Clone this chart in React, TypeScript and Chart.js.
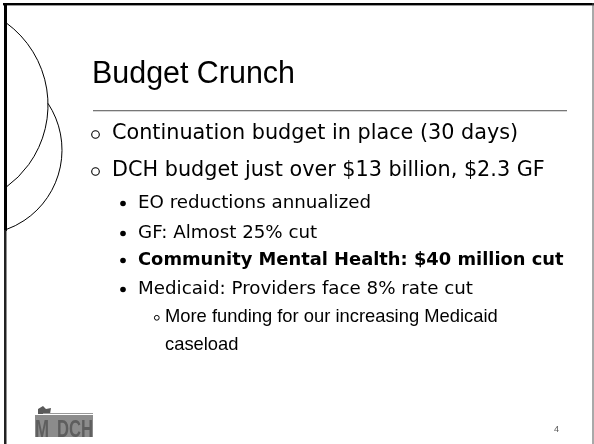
import React, { useEffect, useRef } from "react";
import { Chart, registerables } from "chart.js";

Chart.register(...registerables);

// ---- slide content ----
const TITLE = "Budget Crunch";
const LEVEL1_ITEMS = [
  "Continuation budget in place (30 days)",
  "DCH budget just over $13 billion, $2.3 GF",
];
const LEVEL2_ITEMS = [
  "EO reductions annualized",
  "GF: Almost 25% cut",
  "Community Mental Health: $40 million cut",
  "Medicaid: Providers face 8% rate cut",
];
const LEVEL2_BOLD = [false, false, true, false];
const LEVEL3_LINES = ["More funding for our increasing Medicaid", "caseload"];
const PAGE_NUMBER = "4";
const LOGO_TEXT = ["M", "DCH"];

// ---- layout ----
const W = 594;
const H = 444;
const L1_BASE = [139, 176];
const L2_BASE = [208, 238, 265, 294];
const L3_BASE = [322, 350];

function fitSize(ctx: CanvasRenderingContext2D, text: string, family: string, weight: string, target: number) {
  ctx.font = `${weight} 100px ${family}`;
  const w = ctx.measureText(text).width;
  return (100 * target) / w;
}

function drawSquashed(ctx: CanvasRenderingContext2D, text: string, font: string, x: number, y: number, width: number) {
  ctx.font = font;
  const w = ctx.measureText(text).width;
  ctx.save();
  ctx.translate(x, y);
  ctx.scale(width / w, 1);
  ctx.fillText(text, 0, 0);
  ctx.restore();
}

const slidePlugin = {
  id: "slide",
  afterDraw(chart: any) {
    const ctx: CanvasRenderingContext2D = chart.ctx;
    ctx.save();
    ctx.fillStyle = "#ffffff";
    ctx.fillRect(0, 0, W, H);

    // frame
    ctx.fillStyle = "#000000";
    ctx.fillRect(3, 3, W - 3, 2.4);
    ctx.fillRect(4, 3, 3, 228);
    ctx.fillStyle = "#222222";
    ctx.fillRect(4, 230, 2.5, H - 230);
    ctx.fillStyle = "#555555";
    ctx.fillRect(592.5, 3, 1, H);

    // arcs
    const c1 = { x: -53.6, y: 105, r: 101.6 };
    const c2 = { x: -22.6, y: 150, r: 84.6 };
    ctx.strokeStyle = "#000000";
    ctx.lineWidth = 1;
    const a1 = Math.acos((6 - c1.x) / c1.r);
    ctx.beginPath();
    ctx.arc(c1.x, c1.y, c1.r, -a1, a1);
    ctx.stroke();
    const dx = c2.x - c1.x, dy = c2.y - c1.y;
    const d = Math.hypot(dx, dy);
    const a = (c1.r * c1.r - c2.r * c2.r + d * d) / (2 * d);
    const hh = Math.sqrt(Math.max(0, c1.r * c1.r - a * a));
    const px = c1.x + (a * dx) / d, py = c1.y + (a * dy) / d;
    const ix1 = px + (hh * dy) / d, iy1 = py - (hh * dx) / d;
    const ix2 = px - (hh * dy) / d, iy2 = py + (hh * dx) / d;
    const ix = iy1 < iy2 ? ix1 : ix2;
    const iy = iy1 < iy2 ? iy1 : iy2;
    const s2 = Math.atan2(iy - c2.y, ix - c2.x);
    const e2 = Math.acos((6 - c2.x) / c2.r);
    ctx.beginPath();
    ctx.arc(c2.x, c2.y, c2.r, s2, e2);
    ctx.stroke();

    // title
    ctx.fillStyle = "#000000";
    ctx.textBaseline = "alphabetic";
    const sans = "'Liberation Sans', Arial, sans-serif";
    const tSize = fitSize(ctx, TITLE, sans, "normal", 203);
    ctx.font = `normal ${tSize}px ${sans}`;
    ctx.fillText(TITLE, 92, 83);
    ctx.fillStyle = "#777777";
    ctx.fillRect(93, 110, 474, 1.3);

    // level 1
    ctx.fillStyle = "#000000";
    const v = "'DejaVu Sans', Verdana, sans-serif";
    const s1 = fitSize(ctx, LEVEL1_ITEMS[1], v, "normal", 433);
    LEVEL1_ITEMS.forEach((t, i) => {
      ctx.font = `normal ${s1}px ${v}`;
      ctx.fillText(t, 112, L1_BASE[i]);
      ctx.beginPath();
      ctx.arc(95.5, L1_BASE[i] - 4.5, 3.8, 0, Math.PI * 2);
      ctx.lineWidth = 1.1;
      ctx.strokeStyle = "#000";
      ctx.stroke();
    });

    // level 2
    const s2size = fitSize(ctx, LEVEL2_ITEMS[3], v, "normal", 335);
    LEVEL2_ITEMS.forEach((t, i) => {
      ctx.fillStyle = "#000";
      if (LEVEL2_BOLD[i]) {
        const bs = fitSize(ctx, t, v, "bold", 426);
        ctx.font = `bold ${bs}px ${v}`;
      } else {
        ctx.font = `normal ${s2size}px ${v}`;
      }
      ctx.fillText(t, 138, L2_BASE[i]);
      ctx.beginPath();
      ctx.arc(123, L2_BASE[i] - 4.5, 2.8, 0, Math.PI * 2);
      ctx.fill();
    });

    // level 3
    const s3 = fitSize(ctx, LEVEL3_LINES[0], sans, "normal", 333);
    LEVEL3_LINES.forEach((t, i) => {
      ctx.font = `normal ${s3}px ${sans}`;
      ctx.fillText(t, 165, L3_BASE[i]);
    });
    ctx.beginPath();
    ctx.arc(156.8, L3_BASE[0] - 4.2, 2.4, 0, Math.PI * 2);
    ctx.lineWidth = 1;
    ctx.stroke();

    // page number
    ctx.fillStyle = "#555555";
    ctx.font = `normal 9px ${sans}`;
    ctx.fillText(PAGE_NUMBER, 554, 432);

    // logo
    ctx.fillStyle = "#5a5a5a";
    ctx.beginPath();
    ctx.moveTo(38, 409);
    ctx.lineTo(43, 406);
    ctx.lineTo(46, 409);
    ctx.lineTo(51, 408);
    ctx.lineTo(50, 414);
    ctx.lineTo(38, 414);
    ctx.closePath();
    ctx.fill();
    ctx.fillStyle = "#999999";
    ctx.fillRect(43, 413, 50, 1);
    ctx.fillStyle = "#8c8c8c";
    ctx.fillRect(35, 415, 58, 22);
    ctx.fillStyle = "#5e5e5e";
    const logoFont = `bold 24px ${sans}`;
    drawSquashed(ctx, LOGO_TEXT[0], logoFont, 35, 437, 14);
    drawSquashed(ctx, LOGO_TEXT[1], logoFont, 57, 437, 36);
    ctx.restore();
  },
};

export default function App() {
  const ref = useRef<HTMLCanvasElement | null>(null);
  useEffect(() => {
    if (!ref.current) return;
    const chart = new Chart(ref.current, {
      type: "bar",
      data: { labels: [], datasets: [] },
      options: {
        responsive: false,
        animation: false,
        devicePixelRatio: 1,
        events: [],
        plugins: { legend: { display: false }, title: { display: false }, tooltip: { enabled: false } },
        scales: { x: { display: false }, y: { display: false } },
      },
      plugins: [slidePlugin],
    });
    return () => chart.destroy();
  }, []);
  return (
    <div style={{ position: "fixed", left: 0, top: 0, width: W, height: H, background: "#fff" }}>
      <canvas ref={ref} width={W} height={H} style={{ display: "block", width: W, height: H }} />
    </div>
  );
}
